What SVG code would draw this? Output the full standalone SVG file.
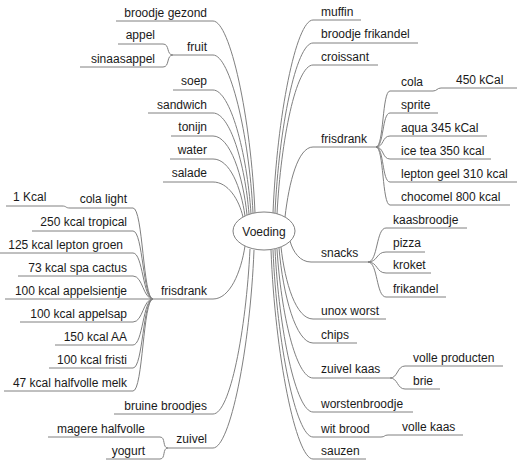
<svg xmlns="http://www.w3.org/2000/svg" width="517" height="461" viewBox="0 0 517 461">
<style>
text{font-family:"Liberation Sans",Arial,sans-serif;font-size:12px;fill:#1a1a1a}
.e{text-anchor:end}
.u,.c path{fill:none;stroke:#808080;stroke-width:1}
</style>
<rect width="517" height="461" fill="#fff"/>
<g class="c" id="connectors">
<path d="M213,21 C230,21 251,117 255,213"/>
<path d="M213,55 C230,55 249,134 253,213"/>
<path d="M213,90 C230,90 247,152 251,214"/>
<path d="M213,113 C230,113 245,163.5 249,214"/>
<path d="M213,136 C230,136 243,175.5 247,215"/>
<path d="M213,159 C230,159 241,187.5 245,216"/>
<path d="M213,182 C228,182 239,199.5 243,217"/>
<path d="M213,299 C230,299 241,272 245,246"/>
<path d="M213,414 C230,414 246,331 250,249"/>
<path d="M213,448 C230,448 250,349 254,250"/>
<path d="M313,20 C296,20 277,116.5 273,213"/>
<path d="M313,43 C296,43 279,128 275,213"/>
<path d="M313,65 C296,65 281,139.5 277,214"/>
<path d="M313,147 C298,147 289,182 285,217"/>
<path d="M311,262 C300,262 293,252 290,241"/>
<path d="M313,319 C296,319 285,283 281,247"/>
<path d="M313,343 C296,343 283,295.5 279,248"/>
<path d="M313,378 C296,378 281,313.5 277,249"/>
<path d="M313,412 C296,412 279,330.5 275,249"/>
<path d="M313,437 C296,437 277,343.5 273,250"/>
<path d="M313,459 C296,459 275,354.5 271,250"/>
<path d="M173,55 C166,55 170,44 163,44"/>
<path d="M173,55 C166,55 170,67 163,67"/>
<path d="M153,299 C143,299 143,208 133,208"/>
<path d="M153,299 C143,299 143,231 133,231"/>
<path d="M153,299 C143,299 143,253 133,253"/>
<path d="M153,299 C143,299 143,276 133,276"/>
<path d="M153,299 L133,299"/>
<path d="M153,299 C143,299 143,322 133,322"/>
<path d="M153,299 C143,299 143,345 133,345"/>
<path d="M153,299 C143,299 143,368 133,368"/>
<path d="M153,299 C143,299 143,391 133,391"/>
<path d="M70,208 C65,208 67,206 62,206"/>
<path d="M168,448 C162,448 166,437 160,437"/>
<path d="M168,448 C162,448 166,459 160,459"/>
<path d="M376,147 C384,147 382,91 390,91"/>
<path d="M376,147 C384,147 382,113 390,113"/>
<path d="M376,147 C384,147 382,136 390,136"/>
<path d="M376,147 C384,147 382,159 390,159"/>
<path d="M376,147 C384,147 382,182 390,182"/>
<path d="M376,147 C384,147 382,205 390,205"/>
<path d="M433,91 C437,91 437,88 441,88"/>
<path d="M368,262 C378,262 376,228 386,228"/>
<path d="M368,262 C378,262 376,252 386,252"/>
<path d="M368,262 C378,262 376,273 386,273"/>
<path d="M368,262 C378,262 376,297 386,297"/>
<path d="M390,378 C398,378 397,366 405,366"/>
<path d="M390,378 C398,378 397,389 405,389"/>
<path d="M381,437 C385,437 384,435 388,435"/>
</g>
<g id="voeding"><ellipse cx="264" cy="231" rx="31" ry="19" fill="#fff" stroke="#808080"/><text x="264" y="236" text-anchor="middle">Voeding</text></g>
<g id="broodje-gezond"><text class="e" x="207" y="17">broodje gezond</text><path class="u" d="M116,21H213"/></g>
<g id="fruit"><text class="e" x="207" y="51">fruit</text><path class="u" d="M173,55H213"/></g>
<g id="appel"><text class="e" x="155" y="39">appel</text><path class="u" d="M118,44H163"/></g>
<g id="sinaasappel"><text class="e" x="155" y="63">sinaasappel</text><path class="u" d="M80,67H163"/></g>
<g id="soep"><text class="e" x="207" y="85">soep</text><path class="u" d="M173,90H213"/></g>
<g id="sandwich"><text class="e" x="207" y="109">sandwich</text><path class="u" d="M148,113H213"/></g>
<g id="tonijn"><text class="e" x="207" y="131">tonijn</text><path class="u" d="M171,136H213"/></g>
<g id="water"><text class="e" x="207" y="154">water</text><path class="u" d="M170,159H213"/></g>
<g id="salade"><text class="e" x="207" y="177">salade</text><path class="u" d="M163,182H213"/></g>
<g id="frisdrank-l"><text class="e" x="207" y="295">frisdrank</text><path class="u" d="M153,299H213"/></g>
<g id="cola-light"><text class="e" x="127" y="203">cola light</text><path class="u" d="M70,208H133"/></g>
<g id="kcal1"><text x="13" y="201">1 Kcal</text><path class="u" d="M6,206H62"/></g>
<g id="tropical"><text class="e" x="127" y="226">250 kcal tropical</text><path class="u" d="M32,231H133"/></g>
<g id="lepton-groen"><text class="e" x="123" y="249">125 kcal lepton groen</text><path class="u" d="M0,253H133"/></g>
<g id="spa-cactus"><text class="e" x="127" y="272">73 kcal spa cactus</text><path class="u" d="M18,276H133"/></g>
<g id="appelsientje"><text class="e" x="127" y="295">100 kcal appelsientje</text><path class="u" d="M5,299H133"/></g>
<g id="appelsap"><text class="e" x="127" y="318">100 kcal appelsap</text><path class="u" d="M20,322H133"/></g>
<g id="aa"><text class="e" x="127" y="341">150 kcal AA</text><path class="u" d="M55,345H133"/></g>
<g id="fristi"><text class="e" x="127" y="364">100 kcal fristi</text><path class="u" d="M49,368H133"/></g>
<g id="halfvolle-melk"><text class="e" x="127" y="387">47 kcal halfvolle melk</text><path class="u" d="M4,391H133"/></g>
<g id="bruine-broodjes"><text class="e" x="207" y="410">bruine broodjes</text><path class="u" d="M114,414H213"/></g>
<g id="zuivel"><text class="e" x="207" y="443">zuivel</text><path class="u" d="M168,448H213"/></g>
<g id="magere-halfvolle"><text class="e" x="145" y="433">magere halfvolle</text><path class="u" d="M48,437H160"/></g>
<g id="yogurt"><text class="e" x="145" y="455">yogurt</text><path class="u" d="M106,459H160"/></g>
<g id="muffin"><text x="321" y="16">muffin</text><path class="u" d="M313,20H361"/></g>
<g id="broodje-frikandel"><text x="321" y="38">broodje frikandel</text><path class="u" d="M313,43H418"/></g>
<g id="croissant"><text x="321" y="61">croissant</text><path class="u" d="M313,65H378"/></g>
<g id="frisdrank-r"><text x="321" y="143">frisdrank</text><path class="u" d="M313,147H376"/></g>
<g id="cola"><text x="401" y="86">cola</text><path class="u" d="M390,91H433"/></g>
<g id="kcal450"><text x="456" y="84">450 kCal</text><path class="u" d="M441,88H517"/></g>
<g id="sprite"><text x="401" y="109">sprite</text><path class="u" d="M390,113H438"/></g>
<g id="aqua"><text x="401" y="132">aqua 345 kCal</text><path class="u" d="M390,136H487"/></g>
<g id="ice-tea"><text x="401" y="155">ice tea 350 kcal</text><path class="u" d="M390,159H491"/></g>
<g id="lepton-geel"><text x="401" y="178">lepton geel 310 kcal</text><path class="u" d="M390,182H517"/></g>
<g id="chocomel"><text x="401" y="201">chocomel 800 kcal</text><path class="u" d="M390,205H510"/></g>
<g id="snacks"><text x="321" y="257">snacks</text><path class="u" d="M311,262H368"/></g>
<g id="kaasbroodje"><text x="393" y="224">kaasbroodje</text><path class="u" d="M386,228H467"/></g>
<g id="pizza"><text x="393" y="247">pizza</text><path class="u" d="M386,252H425"/></g>
<g id="kroket"><text x="393" y="269">kroket</text><path class="u" d="M386,273H431"/></g>
<g id="frikandel"><text x="393" y="293">frikandel</text><path class="u" d="M386,297H446"/></g>
<g id="unox-worst"><text x="321" y="315">unox worst</text><path class="u" d="M313,319H386"/></g>
<g id="chips"><text x="321" y="339">chips</text><path class="u" d="M313,343H357"/></g>
<g id="zuivel-kaas"><text x="321" y="373">zuivel kaas</text><path class="u" d="M313,378H390"/></g>
<g id="volle-producten"><text x="413" y="362">volle producten</text><path class="u" d="M405,366H503"/></g>
<g id="brie"><text x="413" y="385">brie</text><path class="u" d="M405,389H440"/></g>
<g id="worstenbroodje"><text x="321" y="408">worstenbroodje</text><path class="u" d="M313,412H413"/></g>
<g id="wit-brood"><text x="321" y="433">wit brood</text><path class="u" d="M313,437H381"/></g>
<g id="volle-kaas"><text x="402" y="431">volle kaas</text><path class="u" d="M388,435H463"/></g>
<g id="sauzen"><text x="321" y="455">sauzen</text><path class="u" d="M313,459H366"/></g>
</svg>
